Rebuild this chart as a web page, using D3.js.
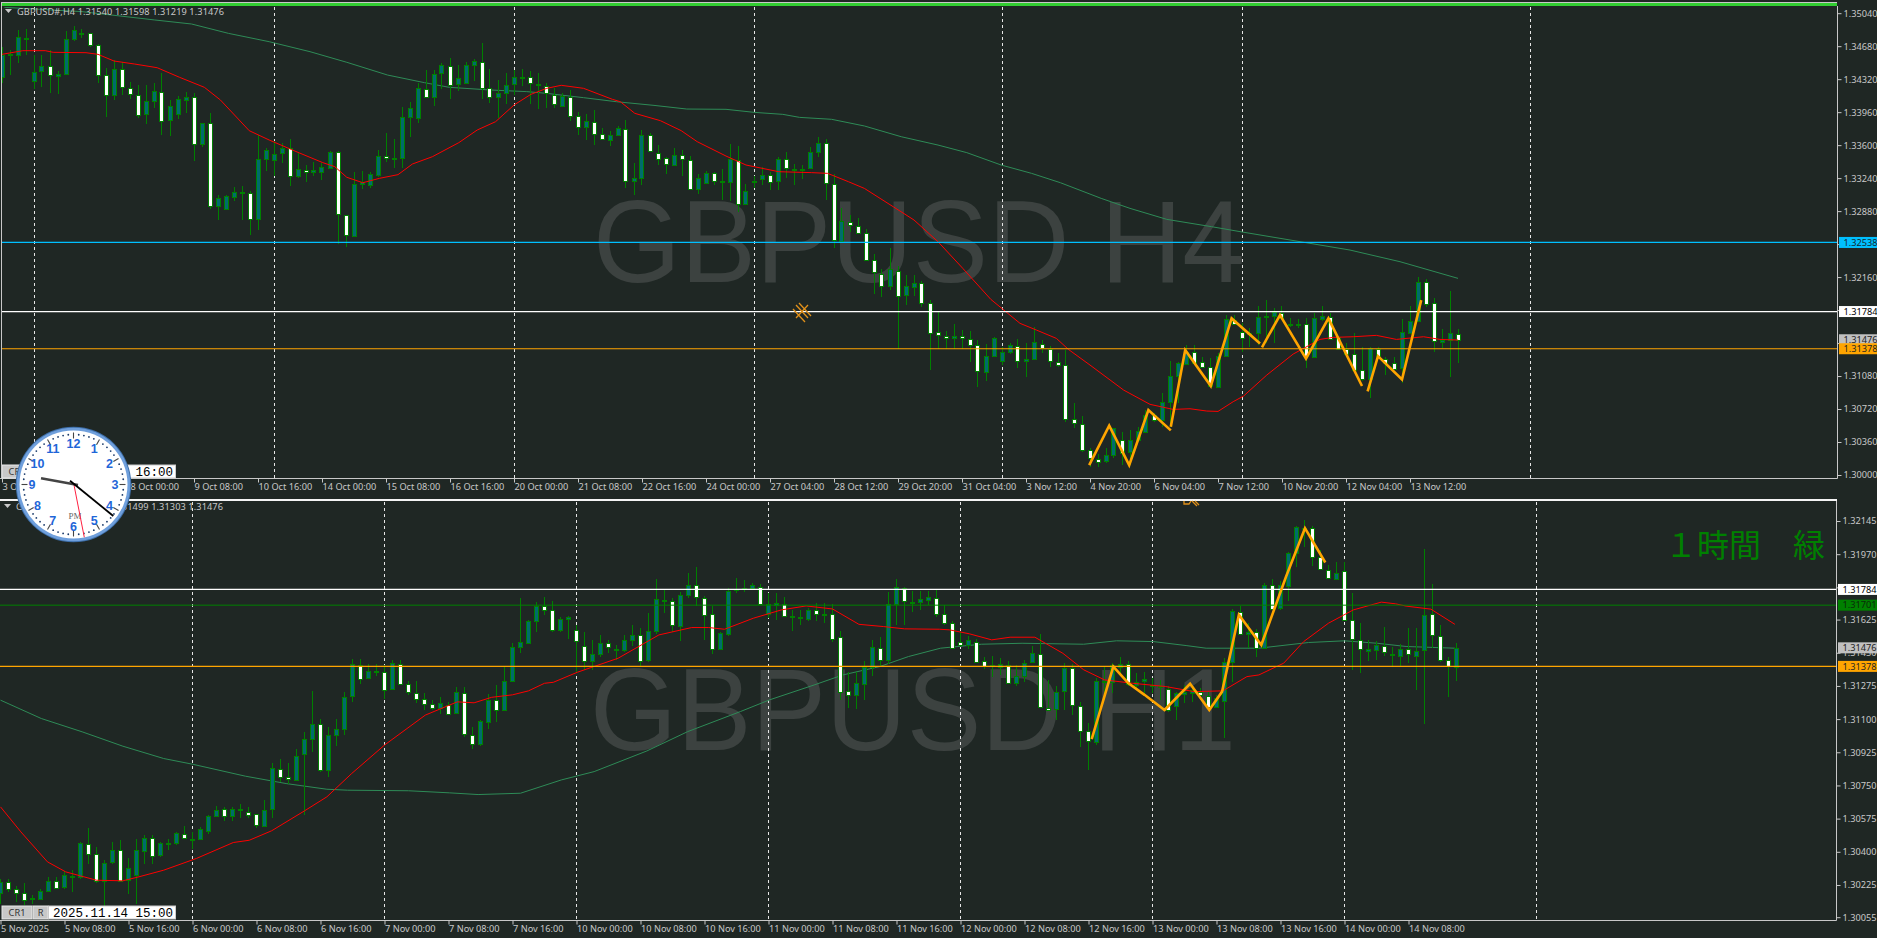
<!DOCTYPE html>
<html><head><meta charset="utf-8">
<style>html,body{margin:0;padding:0;background:#1f2724;overflow:hidden}svg{display:block}
text{font-family:"Noto Sans",Arial,sans-serif}</style>
<script src="https://cdn.jsdelivr.net/npm/d3@7"></script></head><body><svg id="c" width="1877" height="938"></svg>
<script>
// all prices in points: 1 point = 0.00001 above 1.30000
const topOpen=[4347,4583,4583,4772,4293,4402,4460,4347,4373,4750,4819,4819,4688,4362,4140,4427,4220,4151,3937,4075,4184,3868,3934,4086,4122,3611,3839,2932,2903,3041,3084,3077,2794,3444,3433,3509,3567,3259,3331,3302,3306,3349,3520,2834,2605,3175,3164,3277,3484,3458,3458,3901,3894,4217,4130,4380,4467,4260,4275,4467,4511,4228,4122,4162,4260,4344,4347,4267,4246,4148,4032,4126,3919,3792,3857,3727,3651,3705,3781,3208,3241,3709,3509,3455,3379,3487,3433,3121,3182,3295,3204,3197,3436,2954,3193,3230,3273,3204,3444,3342,3335,3346,3520,3618,3172,2555,2765,2722,2638,2344,2199,2061,2221,1957,2051,2095,1876,1560,1516,1494,1516,1484,1418,1123,1298,1247,1334,1407,1240,1262,1429,1378,1236,1203,614,560,276,178,145,210,381,243,374,469,654,592,789,1073,1211,1342,1236,1182,963,1291,1695,1564,1531,1546,1735,1738,1771,1647,1647,1651,1284,1706,1727,1509,1378,1324,1145,1043,1378,1269,1225,1160,1553,1684,2109,1880,1455,1473,1540];
const topHigh=[4674,4640,4855,4866,4583,4583,4638,4409,4848,4899,4866,4819,4703,4438,4529,4511,4286,4257,4257,4275,4384,4093,4137,4184,4166,3847,3948,3059,3059,3143,3150,3095,3712,3567,3640,3622,3665,3513,3386,3411,3404,3531,3531,2841,3302,3320,3309,3542,3730,3665,4021,4075,4275,4420,4420,4493,4547,4474,4511,4536,4710,4427,4311,4384,4420,4427,4409,4391,4275,4220,4166,4202,3966,3937,3984,3785,3749,3810,3876,3404,3767,3730,3603,3469,3567,3549,3484,3288,3317,3309,3342,3614,3592,3175,3259,3357,3302,3476,3527,3397,3386,3578,3690,3665,3288,2914,2841,2805,2685,2413,2250,2478,2279,2178,2178,2117,1906,1789,1571,1644,1578,1567,1469,1425,1505,1400,1444,1480,1436,1611,1473,1407,1334,1364,782,643,290,228,290,516,472,490,527,709,672,891,1244,1236,1418,1418,1284,1273,1327,1746,1746,1655,1600,1844,1909,1818,1844,1709,1702,1709,1771,1844,1771,1516,1436,1546,1393,1393,1400,1291,1284,1698,1844,2157,2135,1927,1589,2008,1598];
const topLow=[4275,4365,4492,4583,4209,4238,4173,4159,4365,4739,4765,4674,4282,3912,4093,4148,4104,3894,3832,4002,3712,3705,3890,3948,3422,3578,2903,2787,2896,2986,2787,2616,2678,3313,3259,3404,3150,3241,3193,3259,3222,3338,2522,2486,2598,3121,3128,3251,3411,3349,3349,3694,3847,4119,4028,4209,4104,4195,4267,4300,4104,4064,3894,4050,4148,4246,4050,3995,4010,4002,4021,3868,3716,3651,3603,3665,3596,3701,3128,3052,3161,3520,3386,3288,3375,3259,3106,3070,3175,3168,3005,2994,2867,2946,3132,3168,3113,3106,3241,3168,3233,3338,3476,2997,2478,2551,2649,2634,2333,1970,1941,2017,1378,1851,1949,1833,1149,1378,1378,1378,1378,1233,960,1025,1287,1200,1320,1164,1073,1254,1334,1182,1174,581,516,254,90,90,134,188,108,108,363,461,581,527,527,782,1200,1200,1164,956,956,1284,1636,1345,1400,1418,1436,1436,1709,1611,1600,1164,1273,1684,1480,1364,1309,1138,1029,836,1291,1091,1153,1000,1546,1676,1836,1345,1382,1073,1219];
const topClose=[4583,4590,4776,4772,4394,4460,4362,4373,4754,4852,4819,4688,4362,4148,4427,4231,4155,3937,4079,4188,3872,4024,4101,4122,3611,3839,2932,3023,3044,3092,3084,2794,3447,3545,3502,3567,3266,3338,3309,3328,3357,3520,2838,2613,3175,3193,3284,3480,3462,3458,3905,4002,4220,4133,4376,4471,4264,4329,4471,4514,4231,4126,4166,4253,4340,4344,4278,4253,4166,4046,4137,3915,3796,3861,3730,3669,3709,3785,3211,3237,3712,3531,3447,3386,3491,3440,3121,3241,3295,3208,3204,3447,2961,3099,3208,3273,3201,3447,3342,3342,3335,3524,3618,3179,2558,2769,2736,2642,2348,2210,2068,2243,1945,2058,2098,1880,1553,1524,1498,1520,1491,1422,1131,1302,1491,1342,1414,1244,1262,1447,1385,1244,1207,618,574,279,188,149,214,509,243,378,476,654,600,792,1076,1218,1345,1225,1185,971,1302,1698,1647,1502,1546,1720,1735,1778,1713,1647,1647,1298,1709,1735,1491,1382,1327,1153,1043,1382,1298,1225,1160,1556,1684,2109,1873,1462,1473,1546,1476];
const botOpen=[183,241,205,183,148,148,194,248,210,273,264,442,389,247,347,410,250,273,407,475,379,444,444,495,465,465,511,590,627,590,627,611,597,537,623,838,796,781,913,992,1073,828,1013,1045,1219,1388,1314,1352,1351,1258,1393,1287,1240,1208,1182,1159,1177,1131,1240,1018,966,1087,1199,1148,1298,1477,1504,1616,1697,1673,1567,1627,1569,1488,1403,1440,1500,1472,1462,1514,1542,1409,1562,1729,1725,1588,1752,1805,1741,1652,1469,1553,1785,1789,1789,1799,1655,1699,1708,1643,1636,1625,1673,1653,1652,1535,1250,1224,1289,1375,1477,1409,1704,1792,1720,1715,1729,1741,1657,1609,1509,1491,1509,1404,1381,1374,1388,1293,1330,1398,1446,1161,1154,1245,1368,1171,1038,981,1298,1293,1377,1391,1284,1298,1277,1272,1259,1166,1231,1236,1245,1224,1163,1192,1398,1667,1550,1557,1472,1805,1683,1802,1975,2107,2107,1954,1887,1839,1883,1623,1518,1462,1462,1486,1446,1435,1468,1434,1462,1652,1536,1410,1376];
const botHigh=[259,259,219,233,171,206,268,268,300,303,453,523,426,359,453,461,365,465,488,488,453,465,505,535,505,532,593,644,637,637,651,637,602,672,866,887,866,940,1034,1249,1101,1060,1101,1245,1418,1418,1391,1391,1386,1412,1412,1301,1301,1236,1201,1215,1192,1268,1271,1057,1096,1233,1280,1374,1500,1741,1623,1720,1743,1724,1637,1645,1597,1558,1518,1544,1518,1491,1544,1597,1579,1659,1838,1782,1738,1773,1870,1901,1750,1694,1562,1790,1843,1834,1820,1813,1764,1764,1743,1676,1676,1685,1715,1711,1708,1567,1351,1351,1404,1518,1535,1773,1838,1799,1778,1778,1778,1782,1703,1618,1557,1539,1521,1430,1433,1421,1404,1386,1412,1486,1550,1307,1275,1395,1391,1192,1078,1316,1377,1395,1430,1404,1342,1351,1316,1307,1275,1245,1280,1280,1263,1245,1228,1421,1681,1694,1606,1574,1817,1838,1826,1984,2119,2151,2116,1992,1913,1931,1931,1764,1606,1518,1513,1585,1479,1497,1580,1580,1997,1812,1596,1429,1499];
const botLow=[127,189,136,118,124,145,189,206,206,189,259,338,233,110,338,241,180,127,338,335,373,409,435,470,417,461,493,584,563,563,579,576,523,532,579,769,760,774,594,929,823,797,958,1017,1192,1286,1310,1328,1205,1254,1286,1228,1184,1148,1148,1127,1127,1127,1008,944,958,1048,1087,1148,1295,1447,1500,1557,1650,1562,1557,1521,1342,1360,1360,1430,1451,1412,1456,1486,1377,1403,1550,1659,1562,1514,1738,1694,1518,1444,1462,1539,1764,1768,1785,1708,1632,1623,1637,1567,1597,1620,1620,1606,1509,1201,1157,1154,1201,1328,1377,1391,1597,1597,1667,1676,1703,1641,1597,1474,1479,1469,1398,1363,1324,1333,1286,1275,1298,1395,1157,1148,1096,1148,1122,951,832,964,1236,1236,1333,1275,1254,1236,1236,1201,1140,1096,1184,1192,1219,1148,1157,999,1298,1544,1474,1426,1469,1676,1676,1725,1901,2010,1908,1887,1838,1834,1620,1360,1345,1409,1412,1433,1381,1381,1397,1253,1074,1475,1402,1218,1303];
const botClose=[241,206,185,148,155,191,248,212,275,266,444,391,247,343,412,247,312,407,475,382,444,449,497,475,470,518,588,623,588,628,620,597,541,623,840,797,783,906,994,1073,828,1015,1046,1215,1389,1316,1352,1352,1258,1395,1289,1247,1210,1184,1163,1184,1131,1242,1025,973,1089,1201,1147,1301,1479,1506,1618,1696,1674,1569,1627,1637,1511,1407,1442,1500,1479,1465,1516,1542,1405,1564,1732,1724,1597,1754,1805,1743,1650,1469,1553,1778,1785,1789,1806,1711,1706,1711,1644,1643,1629,1674,1653,1653,1521,1245,1228,1289,1377,1479,1412,1706,1796,1725,1720,1732,1745,1659,1611,1479,1495,1516,1405,1377,1384,1389,1294,1328,1398,1447,1164,1152,1245,1368,1173,1039,985,1301,1302,1384,1393,1286,1298,1310,1281,1277,1148,1236,1242,1254,1228,1166,1210,1400,1669,1553,1558,1474,1805,1680,1806,1975,2112,2105,1954,1890,1843,1869,1623,1521,1469,1472,1490,1453,1439,1472,1441,1459,1648,1542,1410,1376,1476];
// moving averages and zigzags: [bar, points]
const topRed=[[0,4591],[2.6,4631],[5.4,4631],[6.4,4613],[10.5,4609],[12,4591],[14,4518],[16.6,4485],[19.4,4445],[22.2,4340],[25.3,4231],[27.3,4093],[30.9,3758],[33.4,3656],[37,3521],[40.1,3409],[41.6,3365],[43.1,3249],[45.1,3190],[47.2,3238],[49.5,3278],[51.3,3394],[53.8,3474],[57.1,3627],[59.4,3765],[61.7,3856],[64,4038],[66.1,4154],[68.1,4220],[69.9,4253],[72.7,4220],[76.3,4100],[77.3,4074],[79.1,3947],[82.3,3867],[84.9,3758],[86.9,3638],[90.5,3481],[93,3383],[97.1,3310],[101.2,3300],[103.2,3292],[105.8,3201],[107.8,3128],[111.4,2928],[114,2783],[117,2546],[120.1,2255],[123.6,1917],[127.25,1655],[129.3,1582],[131.8,1491],[133.3,1371],[136,1200],[140.2,927],[143.5,771],[146.4,716],[148.5,723],[150.6,698],[152,694],[153.9,800],[155.2,862],[158.1,1091],[161.4,1320],[164.75,1480],[166.4,1502],[168.9,1509],[171.8,1524],[174.3,1480],[177.7,1509],[179.75,1480],[182,1473]];
const topGreen=[[0.3,5104],[10,5057],[19.1,4966],[23.7,4922],[28.3,4820],[33.4,4729],[38.5,4620],[43.1,4504],[48.2,4365],[52.8,4282],[55.9,4231],[61,4202],[65.6,4184],[68.1,4165],[72.7,4118],[76.8,4074],[81.5,4034],[85.6,3994],[90.5,3991],[94,3958],[97.6,3936],[99.7,3903],[103.7,3882],[107.8,3809],[112.4,3692],[117,3601],[120.6,3518],[124.9,3383],[128.7,3292],[132.3,3190],[137.4,3019],[141,2910],[145.6,2790],[151.2,2710],[154.75,2656],[159.75,2583],[168.5,2455],[174.75,2328],[182,2146]];
const topZig=[[[135.9,108],[138.4,538],[140.9,108],[143.3,709],[146.1,487]],[[146.1,527],[147.9,1364],[151.1,971],[153.7,1709],[157.25,1436]],[[157.5,1393],[159.75,1746],[163,1269],[165.8,1709],[170,971]],[[170.7,912],[172,1298],[175,1043],[177.4,1909]]];
const botRed=[[0,637],[2.55,505],[5.87,347],[8.16,294],[12,250],[15.3,247],[17.3,268],[20.4,303],[24.5,365],[29.1,449],[31.1,461],[33.9,511],[38,616],[40.8,690],[43.9,813],[48,963],[53.1,1121],[57.1,1191],[59.2,1186],[61.4,1215],[64,1228],[66,1249],[68,1289],[69.1,1294],[72.1,1347],[77.2,1421],[82.3,1544],[86.4,1583],[88.5,1583],[90.5,1574],[94.1,1632],[97.6,1676],[100.7,1697],[104,1681],[107.3,1600],[110.4,1588],[113,1576],[117.4,1574],[118.6,1571],[121.1,1550],[123.9,1518],[126.2,1532],[129.3,1532],[132.8,1447],[135.4,1360],[138,1307],[141.5,1289],[145.6,1272],[149.2,1245],[152.8,1249],[155.8,1324],[157.3,1333],[160.4,1395],[162.9,1509],[166,1606],[169.1,1676],[172.6,1717],[174.4,1708],[175.7,1696],[178.8,1680],[181.8,1600]];
const botGreen=[[0,1200],[5.1,1103],[10.2,1033],[15.3,957],[20.4,892],[24,862],[30.6,799],[35.7,760],[40.8,730],[43.4,725],[51,722],[56.1,711],[59.7,702],[65,709],[70.1,779],[74.2,823],[80.8,932],[85.9,1034],[92.5,1140],[96.1,1201],[101.7,1280],[105.3,1333],[109.9,1377],[113.5,1430],[117.5,1474],[122.6,1495],[127.7,1500],[135.4,1495],[139.5,1513],[144.1,1509],[148.2,1488],[150.7,1474],[157.3,1474],[163.5,1504],[168,1513],[172.1,1500],[175.7,1483],[181.8,1474]];
const botZig=[[136.4,995],[139.1,1377],[141,1289],[143,1228],[145.5,1148],[148.7,1286],[151.1,1148],[152.7,1245],[154.8,1650],[157.6,1491],[160.7,1852],[163.06,2107],[165.6,1926]];
// axes
const topPriceTicks=[5040,4680,4320,3960,3600,3240,2880,2520,2160,1800,1440,1080,720,360,0];
const botPriceTicks=[2145,1970,1795,1625,1450,1275,1100,925,750,575,400,225,55];
const topTimeLabels=["3 Oct 08:00","6 Oct 16:00","8 Oct 00:00","9 Oct 08:00","10 Oct 16:00","14 Oct 00:00","15 Oct 08:00","16 Oct 16:00","20 Oct 00:00","21 Oct 08:00","22 Oct 16:00","24 Oct 00:00","27 Oct 04:00","28 Oct 12:00","29 Oct 20:00","31 Oct 04:00","3 Nov 12:00","4 Nov 20:00","6 Nov 04:00","7 Nov 12:00","10 Nov 20:00","12 Nov 04:00","13 Nov 12:00"];
const botTimeLabels=["5 Nov 2025","5 Nov 08:00","5 Nov 16:00","6 Nov 00:00","6 Nov 08:00","6 Nov 16:00","7 Nov 00:00","7 Nov 08:00","7 Nov 16:00","10 Nov 00:00","10 Nov 08:00","10 Nov 16:00","11 Nov 00:00","11 Nov 08:00","11 Nov 16:00","12 Nov 00:00","12 Nov 08:00","12 Nov 16:00","13 Nov 00:00","13 Nov 08:00","13 Nov 16:00","14 Nov 00:00","14 Nov 08:00"];
const topSeparators=[4,34,64,94,125,155,191];
const botSeparators=[24,48,72,96,120,144,168,192];
const topLevels=[{p:2538,c:"#00bfff",t:"#14282e",w:1.2},{p:1784,c:"#ffffff",t:"#000",w:1.2},{p:1378,c:"#ffa500",t:"#1f2724",w:1.2}];
const botLevels=[{p:1784,c:"#ffffff",t:"#000",w:1.2},{p:1701,c:"#008000",t:"#0b2a0b",w:1},{p:1378,c:"#ffa500",t:"#1f2724",w:1.2}];
const lastPoints=1476;

const svg=d3.select("#c"), BG="#1f2724", WICK="#008000", TEAL="#006c6c", SILVER="#c8c8c8", W=1877, FS=9.2;
const fmt=p=>(1.3+p/1e5).toFixed(5);
svg.append("rect").attr("width",W).attr("height",938).attr("fill",BG);
const defs=svg.append("defs");

function panel(o){
  const x=d3.scaleLinear().domain([0,182]).range([o.x0,o.x0+8*182]);
  const y=d3.scaleLinear().domain(o.dom).range(o.rng);
  const px=i=>Math.floor(x(i));
  const right=o.right, top=o.top, bot=o.bot;
  defs.append("clipPath").attr("id",o.id).append("rect").attr("x",o.left).attr("y",top).attr("width",right-o.left).attr("height",bot-top);
  const g=svg.append("g"), c=g.append("g").attr("clip-path",`url(#${o.id})`);
  c.append("text").attr("x",o.wm[0]).attr("y",o.wm[1]).attr("font-size",116).attr("fill","#3c4240").style("font-family","Liberation Sans")
    .attr("textLength",o.wm[2]).attr("lengthAdjust","spacingAndGlyphs").text(o.wmText);
  c.append("g").selectAll("line").data(o.seps).join("line")
    .attr("x1",d=>px(d)+.5).attr("x2",d=>px(d)+.5).attr("y1",top).attr("y2",bot)
    .attr("stroke","#e6e6e6").attr("stroke-width",1).attr("stroke-dasharray","3,3");
  const line=d3.line().x(d=>x(d[0])).y(d=>y(d[1]));
  c.append("path").attr("d",line(o.green)).attr("fill","none").attr("stroke","#2e8b57").attr("stroke-width",1);
  const bars=d3.range(o.o.length);
  c.append("g").selectAll("line").data(bars).join("line").attr("shape-rendering","crispEdges")
    .attr("x1",i=>px(i)+.5).attr("x2",i=>px(i)+.5)
    .attr("y1",i=>y(o.h[i])).attr("y2",i=>y(o.l[i])).attr("stroke",WICK);
  c.append("g").selectAll("rect").data(bars).join("rect").attr("shape-rendering","crispEdges")
    .attr("x",i=>px(i)-1.5).attr("width",4)
    .attr("y",i=>Math.round(y(Math.max(o.o[i],o.c[i])))+.5)
    .attr("height",i=>Math.max(1,Math.round(Math.abs(y(o.o[i])-y(o.c[i])))))
    .attr("fill",i=>o.c[i]<o.o[i]?"#fff":TEAL).attr("stroke",WICK).attr("stroke-width",1);
  c.append("path").attr("d",line(o.red)).attr("fill","none").attr("stroke","#ff0000").attr("stroke-width",1);
  o.levels.forEach(l=>c.append("line").attr("x1",o.left).attr("x2",right).attr("y1",y(l.p)).attr("y2",y(l.p)).attr("stroke",l.c).attr("stroke-width",l.w));
  o.zig.forEach(z=>c.append("path").attr("d",line(z)).attr("fill","none").attr("stroke","#ffa500").attr("stroke-width",2.6).attr("stroke-linejoin","miter"));
  // frame
  g.append("path").attr("d",`M${right+.5},${top-1}V${bot+.5}H0`).attr("fill","none").attr("stroke",SILVER);
  // price axis
  const ay=g.append("g").attr("transform",`translate(${right+.5},0)`).call(d3.axisRight(y).tickValues(o.pt).tickSize(4).tickPadding(2).tickFormat(fmt));
  ay.select(".domain").remove();
  ay.selectAll("line").attr("stroke",SILVER);
  ay.selectAll("text").attr("fill",SILVER).attr("font-size",FS);
  // time axis
  const tks=o.tl.map((_,k)=>k*8);
  const ax=g.append("g").attr("transform",`translate(0,${bot+.5})`).call(d3.axisBottom(x).tickValues(tks).tickSize(4).tickFormat(i=>o.tl[i/8]));
  ax.select(".domain").remove();
  ax.selectAll("line").attr("stroke",SILVER);
  ax.selectAll("text").attr("fill",SILVER).attr("font-size",FS).attr("text-anchor","start").attr("x",0).attr("y",5);
  // price boxes
  const boxes=[...o.levels.slice(0,o.levels.length-1),{p:lastPoints,c:"#c0c0c0",t:"#222"},o.levels[o.levels.length-1]];
  const b=g.append("g").selectAll("g").data(boxes).join("g").attr("transform",d=>`translate(${right+2},${y(d.p)})`);
  b.append("rect").attr("y",-5.5).attr("width",W-right-2).attr("height",11).attr("fill",d=>d.c);
  b.append("text").attr("x",4.5).attr("dy","0.36em").attr("font-size",FS).attr("fill",d=>d.t).text(d=>fmt(d.p));
  // legend
  g.append("path").attr("d",`M${o.leg[0]},${o.leg[1]-2}h7l-3.5,4z`).attr("fill",SILVER);
  g.append("text").attr("x",o.leg[0]+12).attr("y",o.leg[1]+3.5).attr("font-size",FS).attr("fill",SILVER).attr("textLength",o.legLen).text(o.legend);
  // widgets
  const wy=o.wy;
  [[2,30,"CR1"],[33,15,"R"]].forEach(d=>{
    g.append("rect").attr("x",d[0]).attr("y",wy).attr("width",d[1]).attr("height",13).attr("fill","#c8c8c8").attr("stroke","#e8e8e8");
    g.append("text").attr("x",d[0]+d[1]/2).attr("y",wy+10).attr("text-anchor","middle").attr("font-size",FS).attr("fill","#333").text(d[2]);
  });
  g.append("rect").attr("x",48.5).attr("y",wy).attr("width",127).attr("height",13).attr("fill","#fff").attr("stroke","#ccc");
  g.append("text").attr("x",53).attr("y",wy+10.5).style("font-family","Liberation Mono,monospace").attr("font-size",12.5).attr("fill","#000").text(o.stamp);
}
panel({id:"pt",x0:2,dom:[0,5040],rng:[475,13.2],left:1,right:1837,top:7,bot:478,wm:[593,282,652],wmText:"GBPUSD H4",
  seps:topSeparators,green:topGreen,red:topRed,zig:topZig,o:topOpen,h:topHigh,l:topLow,c:topClose,levels:topLevels,pt:topPriceTicks,tl:topTimeLabels,
  leg:[5,11],legLen:207,legend:"GBPUSD#,H4  1.31540 1.31598 1.31219 1.31476",wy:465,stamp:"2025.11.14 16:00"});
panel({id:"pb",x0:0.5,dom:[55,2145],rng:[917.2,521],left:0,right:1836,top:502,bot:920,wm:[590,750,646],wmText:"GBPUSD H1",
  seps:botSeparators,green:botGreen,red:botRed,zig:[botZig],o:botOpen,h:botHigh,l:botLow,c:botClose,levels:botLevels,pt:botPriceTicks,tl:botTimeLabels,
  leg:[4,506],legLen:207,legend:"GBPUSD#,H1  1.31378 1.31499 1.31303 1.31476",wy:906,stamp:"2025.11.14 15:00"});

// chart frame extras
svg.append("rect").attr("x",2).attr("y",2).attr("width",1835).attr("height",1).attr("fill","#c8c8c8");
svg.append("rect").attr("x",2).attr("y",3).attr("width",1835).attr("height",3).attr("fill","#32cd32");
svg.append("line").attr("x1",1.5).attr("x2",1.5).attr("y1",2).attr("y2",478).attr("stroke",SILVER);
svg.append("rect").attr("x",0).attr("y",499).attr("width",1837).attr("height",2).attr("fill","#f4f4f4");
// separate-window label
svg.append("text").attr("x",1665).attr("y",557).attr("font-size",32).style("font-family","'Noto Sans CJK JP'").attr("fill","#008000").text("１時間　緑");
// drawn objects
const mk=svg.append("g").attr("stroke","#e0901a").attr("fill","none").attr("stroke-width",1.3);
mk.append("path").attr("d","M796,305l12,13M808,305l-12,13M793,309l12,13M799,303l12,13");
svg.append("path").attr("d","M1184,501v3h5l2,-3M1192,501l5,5M1195,501l4,4").attr("stroke","#e0901a").attr("fill","none").attr("stroke-width",1.3);

// clock
const ck=svg.append("g").attr("transform","translate(73.5,484.5)");
ck.append("circle").attr("r",57.8).attr("fill","#3d6ea8");
ck.append("circle").attr("r",56.8).attr("fill","#6f9fdc");
ck.append("circle").attr("r",54).attr("fill","#fff");
const ang=d3.range(60).map(k=>k*6*Math.PI/180);
ck.selectAll("circle.t").data(ang).join("circle").attr("class","t").attr("r",(d,k)=>k%5?0.9:0)
  .attr("cx",a=>50*Math.sin(a)).attr("cy",a=>-50*Math.cos(a)).attr("fill","#1a3a6a");
ck.selectAll("line.h").data(ang.filter((d,k)=>k%5==0)).join("line").attr("class","h")
  .attr("x1",a=>46*Math.sin(a)).attr("y1",a=>-46*Math.cos(a)).attr("x2",a=>52*Math.sin(a)).attr("y2",a=>-52*Math.cos(a)).attr("stroke","#444").attr("stroke-width",1.1);
ck.selectAll("text.n").data([12,1,2,3,4,5,6,7,8,9,10,11]).join("text").attr("class","n")
  .attr("x",(d,k)=>41.5*Math.sin(k*Math.PI/6)).attr("y",(d,k)=>-41.5*Math.cos(k*Math.PI/6)+4.5)
  .attr("text-anchor","middle").attr("font-size",12.5).attr("font-weight","bold").attr("fill","#1f66d8").style("font-family","Liberation Sans").text(d=>d);
ck.append("text").attr("x",1.5).attr("y",34).attr("text-anchor","middle").attr("font-size",9).style("font-family","Liberation Serif").attr("fill","#666").text("PM");
ck.append("line").attr("x1",0.5).attr("y1",0.5).attr("x2",10.8).attr("y2",52.8).attr("stroke","#ff2040").attr("stroke-width",1);
ck.append("line").attr("x1",4.5).attr("y1",0.5).attr("x2",-32.5).attr("y2",-6.2).attr("stroke","#444").attr("stroke-width",2.6);
ck.append("line").attr("x1",-3.5).attr("y1",-3.8).attr("x2",39.8).attr("y2",31.5).attr("stroke","#000").attr("stroke-width",1.8);
</script></body></html>
